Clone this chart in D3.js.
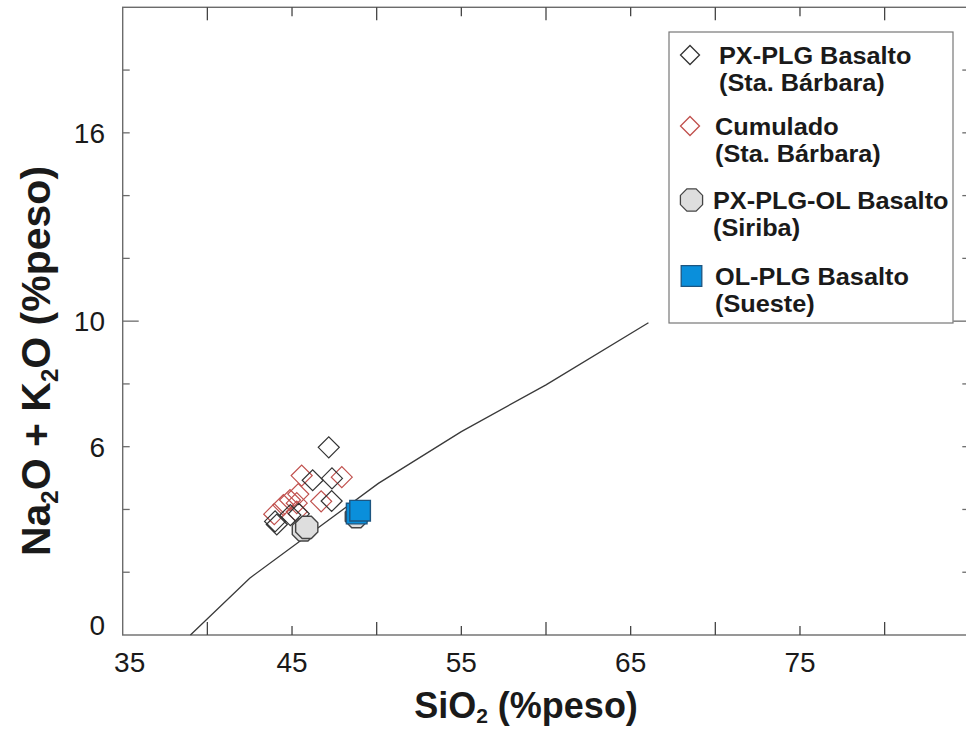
<!DOCTYPE html>
<html>
<head>
<meta charset="utf-8">
<script src="https://cdn.jsdelivr.net/npm/d3@7"></script>
<style>
	body { margin: 0; background: #fff; }
	svg { display: block; }
	text { font-family: 'Liberation Sans', Arial, sans-serif; fill: #1a1a1a; }
</style>
</head>
<body>
<div id="chart"></div>
<script>

// ---- data ----
var xTicks = [40, 45, 50, 55, 60, 65, 70, 75, 80];
var xTickLabels = [35, 45, 55, 65, 75];
var yTicks = [2, 4, 6, 8, 10, 12, 14, 16, 18];
var yTickLabels = [0, 6, 10, 16];

// alkaline / subalkaline divide
var lineSiO2 = [39.0, 42.5, 50.1, 55.0, 60.0, 66.05];
var lineAlk = [0, 1.81, 4.83, 6.48, 7.97, 9.95];

var pxplgSiO2 = [47.17, 46.22, 47.36, 47.34, 45.40, 44.90, 44.00, 44.10];
var pxplgAlk = [5.98, 4.93, 4.99, 4.27, 3.86, 3.82, 3.62, 3.52];

var cumSiO2 = [45.57, 47.94, 46.72, 45.37, 44.88, 44.49, 45.28, 45.28, 43.95];
var cumAlk = [5.08, 5.03, 4.26, 4.49, 4.30, 4.14, 4.20, 3.93, 3.85];

var siribaSiO2 = [45.67, 45.87, 48.80];
var siribaAlk = [3.35, 3.43, 3.77];

var suesteSiO2 = [48.82, 49.02];
var suesteAlk = [3.87, 3.96];

var legendLines = [
	['PX-PLG Basalto', '(Sta. Bárbara)'],
	['Cumulado', '(Sta. Bárbara)'],
	['PX-PLG-OL Basalto', '(Siriba)'],
	['OL-PLG Basalto', '(Sueste)']
];

// ---- setup ----
var W = 966, H = 729;
var svg = d3.select('#chart').append('svg').attr('width', W).attr('height', H);

var x = d3.scaleLinear().domain([35, 85]).range([122.7, 969.3]);
var y = d3.scaleLinear().domain([0, 20]).range([635, 7.3]);

var axisColor = '#6b6b6b';

function zip(a, b) { return a.map(function(d, i) { return [d, b[i]]; }); }

function polyPath(cx, cy, r, n, rot) {
	var pts = d3.range(n).map(function(k) {
		var a = rot + k * 2 * Math.PI / n;
		return [cx + r * Math.cos(a), cy + r * Math.sin(a)];
	});
	return 'M' + pts.join('L') + 'Z';
}

function diamond(cx, cy, r) { return polyPath(cx, cy, r, 4, 0); }
function octagon(cx, cy, r) { return polyPath(cx, cy, r, 8, Math.PI / 8); }
function square(cx, cy, h) { return 'M' + (cx - h) + ',' + (cy - h) + 'h' + 2 * h + 'v' + 2 * h + 'h' + (-2 * h) + 'Z'; }

// ---- frame ----
svg.append('rect')
	.attr('x', x(35)).attr('y', y(20))
	.attr('width', x(85) - x(35)).attr('height', y(0) - y(20))
	.style('fill', 'none').style('stroke', axisColor).style('stroke-width', 1.4);

// x ticks bottom and top, pointing inward; tens are longer
var xLen = function(d) { return d % 10 == 0 ? 13 : 9; };
svg.append('g').selectAll('line.xb').data(xTicks).enter().append('line')
	.attr('x1', function(d) { return x(d); }).attr('x2', function(d) { return x(d); })
	.attr('y1', y(0)).attr('y2', function(d) { return y(0) - xLen(d); })
	.style('stroke', '#444').style('stroke-width', 1.3);
svg.append('g').selectAll('line.xt').data(xTicks).enter().append('line')
	.attr('x1', function(d) { return x(d); }).attr('x2', function(d) { return x(d); })
	.attr('y1', y(20)).attr('y2', function(d) { return y(20) + xLen(d); })
	.style('stroke', '#444').style('stroke-width', 1.3);

// y ticks left and right
var yLen = function(d) { return d == 10 ? 16 : 7; };
svg.append('g').selectAll('line.yl').data(yTicks).enter().append('line')
	.attr('y1', function(d) { return y(d); }).attr('y2', function(d) { return y(d); })
	.attr('x1', x(35)).attr('x2', function(d) { return x(35) + yLen(d); })
	.style('stroke', axisColor).style('stroke-width', 1.3);
svg.append('g').selectAll('line.yr').data(yTicks).enter().append('line')
	.attr('y1', function(d) { return y(d); }).attr('y2', function(d) { return y(d); })
	.attr('x1', x(85)).attr('x2', function(d) { return x(85) - yLen(d); })
	.style('stroke', axisColor).style('stroke-width', 1.3);

// tick labels
svg.append('g').selectAll('text').data(xTickLabels).enter().append('text')
	.attr('x', function(d) { return x(d) + (d == 35 ? 7 : 0); })
	.attr('y', 672)
	.attr('text-anchor', 'middle')
	.style('font-size', '28px')
	.text(function(d) { return d; });

svg.append('g').selectAll('text').data(yTickLabels).enter().append('text')
	.attr('x', 105)
	.attr('y', function(d) { return y(d); })
	.attr('dy', function(d) { return d == 0 ? '0em' : '0.36em'; })
	.attr('text-anchor', 'end')
	.style('font-size', '28px')
	.text(function(d) { return d; });

// axis titles
var xt = svg.append('text')
	.attr('x', 526).attr('y', 718)
	.attr('text-anchor', 'middle')
	.style('font-size', '36px').style('font-weight', 'bold');
xt.append('tspan').text('SiO');
xt.append('tspan').text('2').style('font-size', '21px').attr('dy', 5);
xt.append('tspan').text(' (%peso)').attr('dy', -5);

var yt = svg.append('text')
	.attr('transform', 'translate(50,361) rotate(-90)')
	.attr('text-anchor', 'middle')
	.style('font-size', '41px').style('font-weight', 'bold');
yt.append('tspan').text('Na');
yt.append('tspan').text('2').style('font-size', '24px').attr('dy', 8);
yt.append('tspan').text('O + K').attr('dy', -8);
yt.append('tspan').text('2').style('font-size', '24px').attr('dy', 8);
yt.append('tspan').text('O (%peso)').attr('dy', -8);

// ---- divide line ----
svg.append('path')
	.datum(zip(lineSiO2, lineAlk))
	.attr('d', d3.line().x(function(d) { return x(d[0]); }).y(function(d) { return y(d[1]); }))
	.style('fill', 'none').style('stroke', '#3a3a3a').style('stroke-width', 1.3);

// ---- samples ----
svg.append('g').selectAll('path').data(zip(cumSiO2, cumAlk)).enter().append('path')
	.attr('d', function(d) { return diamond(x(d[0]), y(d[1]), 10.5); })
	.style('fill', 'none').style('stroke', '#c0504d').style('stroke-width', 1.2);

svg.append('g').selectAll('path').data(zip(pxplgSiO2, pxplgAlk)).enter().append('path')
	.attr('d', function(d) { return diamond(x(d[0]), y(d[1]), 10.5); })
	.style('fill', 'none').style('stroke', '#333').style('stroke-width', 1.2);

svg.append('g').selectAll('path').data(zip(siribaSiO2, siribaAlk)).enter().append('path')
	.attr('d', function(d) { return octagon(x(d[0]), y(d[1]), 12); })
	.style('fill', '#dedede').style('stroke', '#444').style('stroke-width', 1.4);

svg.append('g').selectAll('path').data(zip(suesteSiO2, suesteAlk)).enter().append('path')
	.attr('d', function(d) { return square(x(d[0]), y(d[1]), 10.3); })
	.style('fill', '#0a8fdb').style('stroke', '#1d5580').style('stroke-width', 1.4);

// ---- legend ----
var lg = svg.append('g');
lg.append('rect')
	.attr('x', 669).attr('y', 32).attr('width', 284).attr('height', 291)
	.style('fill', '#fff').style('stroke', '#777').style('stroke-width', 1.2);

var rowY = [55, 126, 200, 276];
var symbols = [
	function(cy) { return diamond(690, cy, 9.5); },
	function(cy) { return diamond(690, cy, 9.5); },
	function(cy) { return octagon(691.5, cy, 12); },
	function(cy) { return square(691.5, cy, 10.3); }
];
var symFill = ['none', 'none', '#dedede', '#0a8fdb'];
var symStroke = ['#333', '#c0504d', '#444', '#1d5580'];
var textX = [719, 715, 713, 715];

legendLines.forEach(function(lines, i) {
	lg.append('path')
		.attr('d', symbols[i](rowY[i]))
		.style('fill', symFill[i]).style('stroke', symStroke[i]).style('stroke-width', 1.3);
	lines.forEach(function(t, j) {
		lg.append('text')
			.attr('transform', 'translate(' + textX[i] + ',' + (rowY[i] + 8.5 + j * 27.5) + ') scale(1.1,1)')
			.style('font-size', '23px').style('font-weight', 'bold')
			.text(t);
	});
});

</script>
</body>
</html>
